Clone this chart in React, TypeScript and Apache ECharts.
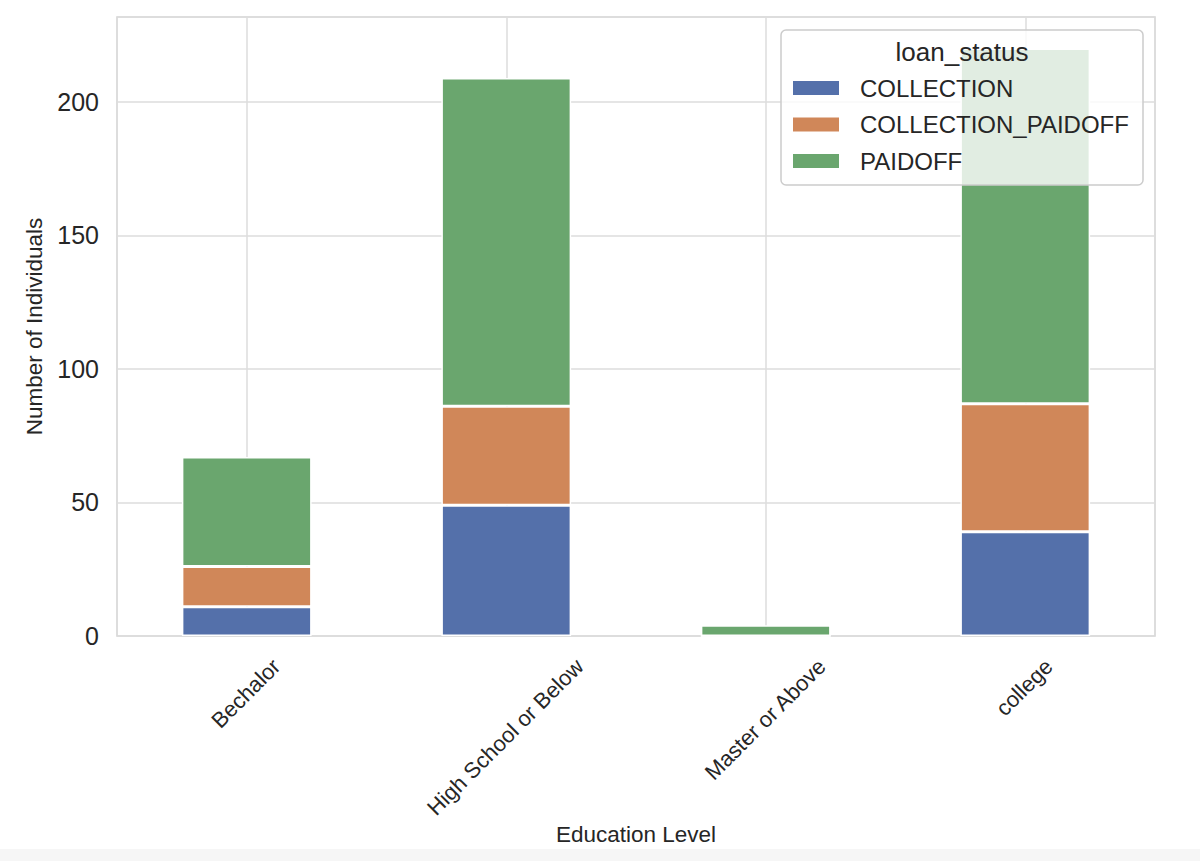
import React, { useEffect, useRef } from "react";
import * as echarts from "echarts";

const categories = ["Bechalor", "High School or Below", "Master or Above", "college"];
const seriesNames = ["COLLECTION", "COLLECTION_PAIDOFF", "PAIDOFF"];
const collection = [11, 49, 0, 39];
const collectionPaidoff = [15, 37, 0, 48];
const paidoff = [41, 123, 4, 133];
const yTicks = [0, 50, 100, 150, 200];

const colors = ["#5470aa", "#d08759", "#6aa66e"];
const FONT = '"Liberation Sans", Arial, Helvetica, sans-serif';
const TEXT = "#262626";

function measure(t: string, size: number): number {
  const c = document.createElement("canvas").getContext("2d");
  if (!c) return t.length * size * 0.5;
  c.font = `${size}px ${FONT}`;
  return c.measureText(t).width;
}

export default function App() {
  const ref = useRef<HTMLDivElement>(null);
  useEffect(() => {
    if (!ref.current) return;
    const chart = echarts.init(ref.current, undefined, { renderer: "svg" });
    const values = [collection, collectionPaidoff, paidoff];
    chart.setOption({
      animation: false,
      backgroundColor: "#ffffff",
      textStyle: { fontFamily: FONT, color: TEXT },
      grid: {
        left: 117,
        right: 45,
        top: 17,
        bottom: 225,
        show: true,
        borderColor: "#d2d2d2",
        borderWidth: 1.5,
        backgroundColor: "#ffffff",
      },
      legend: {
        orient: "vertical",
        left: 791,
        top: 76,
        padding: 0,
        z: 12,
        icon: "rect",
        itemWidth: 48,
        itemHeight: 16,
        itemGap: 12.5,
        data: seriesNames,
        textStyle: {
          fontSize: 24,
          lineHeight: 24,
          color: TEXT,
          fontFamily: FONT,
          padding: [0, 0, 0, 15],
        },
      },
      xAxis: {
        type: "category",
        data: categories,
        axisLine: { show: false },
        axisTick: { show: false },
        axisLabel: { show: false },
        splitLine: {
          show: true,
          alignWithLabel: true,
          lineStyle: { color: "#dcdcdc", width: 1.5 },
        },
        name: "Education Level",
        nameLocation: "middle",
        nameGap: 187,
        nameTextStyle: { fontSize: 22.5, color: TEXT, fontFamily: FONT },
      },
      yAxis: {
        type: "value",
        min: 0,
        max: 231.8,
        interval: 50,
        axisLine: { show: false },
        axisTick: { show: false },
        axisLabel: {
          fontSize: 25,
          color: TEXT,
          margin: 18,
          fontFamily: FONT,
          formatter: (v: number) => (yTicks.indexOf(v) >= 0 ? String(v) : ""),
        },
        splitLine: { show: true, lineStyle: { color: "#dcdcdc", width: 1.5 } },
        name: "Number of Individuals",
        nameLocation: "middle",
        nameGap: 67,
        nameTextStyle: { fontSize: 22.5, color: TEXT, fontFamily: FONT },
      },
      series: seriesNames.map((n, i) => ({
        name: n,
        type: "bar",
        stack: "total",
        barWidth: "50%",
        data: values[i],
        itemStyle: { color: colors[i], borderColor: "#ffffff", borderWidth: 1.5 },
        emphasis: { disabled: true },
      })),
    });

    const yBase = chart.convertToPixel({ yAxisIndex: 0 }, 0) as number;
    const fs = 22;
    const labels = categories.map((c, i) => {
      const x = chart.convertToPixel({ xAxisIndex: 0 }, c) as number;
      const w = measure(c, fs);
      return {
        type: "text",
        id: "lbl" + i,
        x: x + 0.3536 * (w - fs) - 1,
        y: yBase + 19,
        rotation: Math.PI / 4,
        z: 5,
        style: {
          text: c,
          fontSize: fs,
          fontFamily: FONT,
          fill: TEXT,
          align: "right",
          verticalAlign: "top",
        },
      };
    });

    chart.setOption({
      graphic: [
        {
          type: "rect",
          id: "legendBox",
          z: 10,
          shape: { x: 781, y: 30, width: 362, height: 155, r: 5 },
          style: { fill: "rgba(255,255,255,0.8)", stroke: "#cccccc", lineWidth: 1.5 },
        },
        {
          type: "text",
          id: "legendTitle",
          z: 11,
          x: 962,
          y: 52,
          style: {
            text: "loan_status",
            fontSize: 26,
            fontFamily: FONT,
            fill: TEXT,
            align: "center",
            verticalAlign: "middle",
          },
        },
        {
          type: "rect",
          id: "bottomStrip",
          z: 0,
          shape: { x: 0, y: 849, width: 1200, height: 12 },
          style: { fill: "#f6f6f6" },
        },
        ...labels,
      ],
    });

    return () => chart.dispose();
  }, []);
  return (
    <div
      ref={ref}
      style={{ position: "absolute", left: 0, top: 0, width: 1200, height: 861 }}
    />
  );
}
